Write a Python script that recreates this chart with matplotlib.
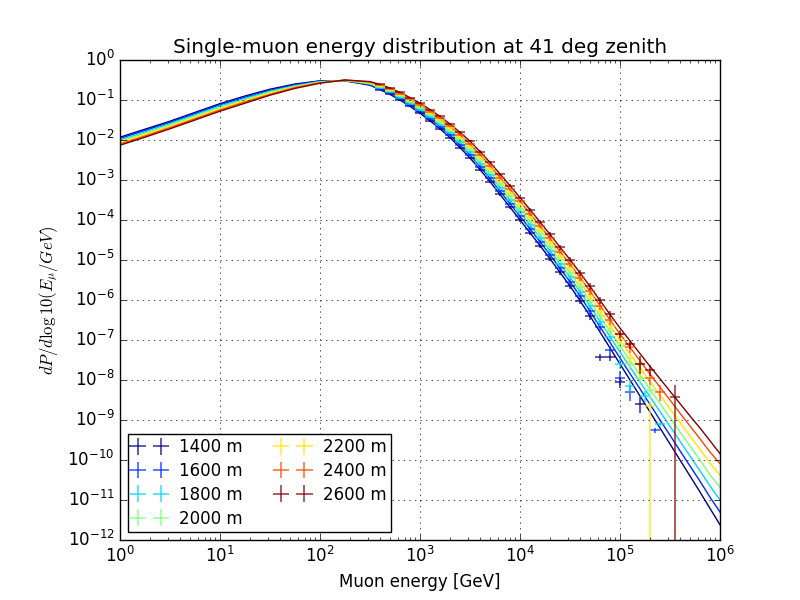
import numpy as np
import matplotlib
matplotlib.use("Agg")
import matplotlib.pyplot as plt

# ---------------- data (log10 values) ----------------
DEPTHS = [1400, 1600, 1800, 2000, 2200, 2400, 2600]

# log10(E/GeV) grid of the model curves
LOGE = [0.0, 0.25, 0.5, 0.75, 1.0, 1.25, 1.5, 1.75, 2.0, 2.25,
        2.5, 2.6, 2.7, 2.8, 2.9, 3.0, 3.1, 3.2, 3.3, 3.4,
        3.5, 3.6, 3.7, 3.8, 3.9, 4.0, 4.1, 4.2, 4.3, 4.4,
        4.5, 4.6, 4.7, 4.8, 4.9, 5.0, 5.1, 5.2, 5.3, 5.4,
        5.5, 5.6, 5.7, 5.8, 5.9, 6.0]

# log10(dP/dlog10E) of the model curve for each depth
C1400 = [-1.93, -1.73, -1.53, -1.31, -1.09, -0.90, -0.73, -0.60, -0.52, -0.52,
         -0.63, -0.74, -0.86, -1.00, -1.16, -1.33, -1.52, -1.72, -1.94, -2.19,
         -2.45, -2.74, -3.04, -3.36, -3.68, -4.00, -4.32, -4.64, -4.97, -5.31,
         -5.65, -6.02, -6.40, -6.80, -7.20, -7.60, -8.00, -8.40, -8.80, -9.20,
         -9.60, -10.00, -10.40, -10.80, -11.21, -11.62]
C1600 = [-1.96, -1.76, -1.56, -1.34, -1.12, -0.93, -0.76, -0.62, -0.53, -0.52,
         -0.62, -0.72, -0.83, -0.97, -1.12, -1.29, -1.47, -1.67, -1.88, -2.13,
         -2.38, -2.67, -2.96, -3.28, -3.59, -3.91, -4.22, -4.54, -4.87, -5.21,
         -5.54, -5.90, -6.28, -6.67, -7.06, -7.45, -7.84, -8.22, -8.61, -9.00,
         -9.38, -9.77, -10.15, -10.53, -10.93, -11.30]
C1800 = [-2.00, -1.80, -1.59, -1.37, -1.15, -0.96, -0.78, -0.64, -0.54, -0.51,
         -0.60, -0.70, -0.81, -0.94, -1.09, -1.25, -1.43, -1.62, -1.83, -2.06,
         -2.31, -2.59, -2.88, -3.19, -3.50, -3.81, -4.13, -4.44, -4.77, -5.10,
         -5.43, -5.79, -6.15, -6.54, -6.92, -7.30, -7.67, -8.05, -8.42, -8.79,
         -9.16, -9.53, -9.90, -10.27, -10.65, -11.00]
C2000 = [-2.03, -1.83, -1.62, -1.40, -1.18, -0.99, -0.80, -0.66, -0.55, -0.51,
         -0.59, -0.68, -0.78, -0.90, -1.05, -1.20, -1.38, -1.56, -1.77, -2.00,
         -2.24, -2.52, -2.80, -3.11, -3.41, -3.72, -4.03, -4.35, -4.67, -5.00,
         -5.32, -5.67, -6.03, -6.41, -6.78, -7.15, -7.51, -7.87, -8.23, -8.59,
         -8.94, -9.30, -9.65, -10.00, -10.37, -10.68]
C2200 = [-2.06, -1.86, -1.66, -1.44, -1.22, -1.02, -0.83, -0.67, -0.56, -0.51,
         -0.57, -0.65, -0.75, -0.87, -1.01, -1.16, -1.33, -1.51, -1.71, -1.94,
         -2.17, -2.44, -2.72, -3.02, -3.32, -3.63, -3.93, -4.25, -4.56, -4.89,
         -5.21, -5.55, -5.91, -6.27, -6.64, -7.00, -7.35, -7.69, -8.04, -8.38,
         -8.72, -9.06, -9.40, -9.73, -10.08, -10.38]
C2400 = [-2.10, -1.90, -1.69, -1.47, -1.25, -1.05, -0.86, -0.69, -0.57, -0.50,
         -0.55, -0.63, -0.73, -0.84, -0.98, -1.12, -1.29, -1.46, -1.66, -1.87,
         -2.10, -2.37, -2.64, -2.94, -3.23, -3.53, -3.84, -4.15, -4.46, -4.79,
         -5.10, -5.44, -5.78, -6.14, -6.50, -6.85, -7.18, -7.52, -7.85, -8.18,
         -8.50, -8.83, -9.15, -9.47, -9.80, -10.09]
C2600 = [-2.13, -1.93, -1.72, -1.50, -1.28, -1.08, -0.88, -0.71, -0.58, -0.50,
         -0.54, -0.61, -0.70, -0.81, -0.94, -1.08, -1.24, -1.41, -1.60, -1.81,
         -2.03, -2.29, -2.56, -2.85, -3.14, -3.44, -3.74, -4.05, -4.36, -4.68,
         -4.99, -5.32, -5.66, -6.01, -6.36, -6.70, -7.02, -7.34, -7.66, -7.97,
         -8.28, -8.59, -8.90, -9.20, -9.52, -9.84]
CURVES = [C1400, C1600, C1800, C2000, C2200, C2400, C2600]

# histogram bins that sit on the curves: from log10E = 2.6 up to BULK_LAST
BULK_FIRST = 2.6
BULK_LAST = [4.7, 4.8, 4.9, 5.0, 5.0, 5.1, 4.9]
# relative statistical error of those bins (log10E = 2.6 ... 6.0)
BIN_RELERR = [0.03, 0.03, 0.04, 0.04, 0.05, 0.05, 0.06, 0.06, 0.07, 0.07,
              0.08, 0.08, 0.09, 0.09, 0.10, 0.11, 0.12, 0.13, 0.14, 0.15,
              0.17, 0.19, 0.21, 0.23, 0.25, 0.28, 0.30, 0.30, 0.30, 0.30,
              0.30, 0.30, 0.30, 0.30, 0.30]
BIN_HALFWIDTH = 0.05  # in log10E

# high-energy tail bins: (log10E, log10P, rel. error down, rel. error up)
TAIL_1400 = [(4.8, -7.42, 0.2, 0.2), (4.9, -7.42, 0.2, 0.2),
             (5.0, -8.05, 0.3, 0.35), (5.2, -8.6, 0.4, 0.5)]
TAIL_1600 = [(4.9, -7.25, 0.2, 0.25), (5.0, -7.95, 0.35, 0.5),
             (5.1, -8.3, 0.4, 0.5), (5.35, -9.25, 0.15, 0.15)]
TAIL_1800 = [(5.0, -7.6, 0.25, 0.3), (5.1, -8.15, 0.35, 0.4),
             (5.25, -8.4, 0.3, 0.3), (5.4, -9.1, 0.15, 0.15)]
TAIL_2000 = [(5.1, -7.6, 0.3, 0.35), (5.2, -7.95, 0.35, 0.4),
             (5.3, -8.25, 0.4, 0.5)]
TAIL_2200 = [(5.1, -7.45, 0.3, 0.35), (5.2, -7.8, 0.35, 0.45),
             (5.3, -8.65, 0.999999, 0.3)]
TAIL_2400 = [(5.2, -7.6, 0.3, 0.35), (5.3, -7.95, 0.35, 0.45),
             (5.4, -8.3, 0.4, 0.5)]
TAIL_2600 = [(5.0, -6.85, 0.2, 0.2), (5.1, -7.1, 0.25, 0.25),
             (5.2, -7.6, 0.45, 0.6), (5.3, -7.75, 0.3, 0.35),
             (5.55, -8.42, 0.999999, 1.0)]
TAILS = [TAIL_1400, TAIL_1600, TAIL_1800, TAIL_2000, TAIL_2200, TAIL_2400, TAIL_2600]

# ---------------- plotting ----------------
plt.style.use("classic")
plt.rcParams["figure.facecolor"] = "white"
plt.rcParams["savefig.facecolor"] = "white"

fig = plt.figure(figsize=(8, 6), dpi=100)
ax = fig.add_subplot(111)
fig.subplots_adjust(left=0.15, right=0.9, bottom=0.1, top=0.9)

cmap = plt.get_cmap("jet")
loge = np.array(LOGE)
colors = [cmap(i / (len(DEPTHS) - 1)) for i in range(len(DEPTHS))]

for i, d in enumerate(DEPTHS):
    ax.plot(10 ** loge, 10 ** np.array(CURVES[i]), "-", color=colors[i], lw=1.0)

for i, d in enumerate(DEPTHS):
    i0 = int(np.argmin(np.abs(loge - BULK_FIRST)))
    i1 = int(np.argmin(np.abs(loge - BULK_LAST[i])))
    be = list(loge[i0:i1 + 1])
    bp = list(np.array(CURVES[i])[i0:i1 + 1])
    blo = list(BIN_RELERR[:i1 - i0 + 1])
    bhi = list(BIN_RELERR[:i1 - i0 + 1])
    for (te, tp, tlo, thi) in TAILS[i]:
        be.append(te); bp.append(tp); blo.append(tlo); bhi.append(thi)
    be = np.array(be); bp = np.array(bp)
    x = 10 ** be
    y = 10 ** bp
    xl = x - 10 ** (be - BIN_HALFWIDTH)
    xh = 10 ** (be + BIN_HALFWIDTH) - x
    yl = y * np.array(blo)
    yh = y * np.array(bhi)
    ax.errorbar(x, y, xerr=[xl, xh], yerr=[yl, yh], fmt="none",
                ecolor=colors[i], elinewidth=1.2, capsize=0, alpha=0.75,
                label="%d m" % d)

ax.set_xscale("log")
ax.set_yscale("log")
ax.set_xlim(1, 1e6)
ax.set_ylim(1e-12, 1)
ax.grid(True)
ax.set_xlabel("Muon energy [GeV]")
ax.set_ylabel(r"$dP/d\log10(E_\mu/GeV)$")
ax.set_title("Single-muon energy distribution at 41 deg zenith")
ax.legend(loc="lower left", ncol=2, numpoints=2, fontsize=12,
          borderpad=0.25, labelspacing=0.35, handlelength=2.0,
          borderaxespad=0.5)

fig.savefig("out.png", dpi=100)
